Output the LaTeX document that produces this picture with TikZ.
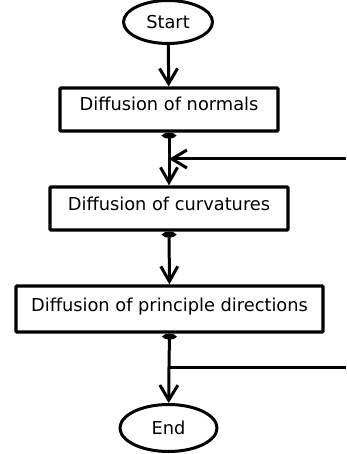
\documentclass[tikz,border=0pt]{standalone}
\usepackage{fontspec}
\setmainfont{DejaVu Sans}
\usetikzlibrary{arrows.meta,shapes.geometric}
\begin{document}
\begin{tikzpicture}[x=1pt,y=-1pt,
		every node/.style={font=\fontsize{17.8}{20}\selectfont},
		terminal/.style={draw,ellipse,line width=3pt,inner sep=0pt},
		stepbox/.style={draw,rectangle,line width=3.2pt,rounded corners=1pt,inner xsep=0pt,inner ysep=0pt,text height=23pt,text depth=20pt},
		flow/.style={line width=3pt,{Circle[length=6pt,width=13pt]}-{Straight Barb[length=15pt,width=17pt,line width=3pt]}},
		back/.style={line width=3pt,-{Straight Barb[length=15pt,width=18pt,line width=3pt]}}]
	\useasboundingbox (0,0) rectangle (346,454);

	\node[terminal,minimum width=89pt,minimum height=43pt] (start) at (168,22) {Start};
	\node[stepbox,minimum width=218pt,minimum height=43pt] (normals) at (169,109.5) {Diffusion of normals};
	\node[stepbox,minimum width=238pt,minimum height=43pt] (curv) at (169,208.5) {Diffusion of curvatures};
	\node[stepbox,minimum width=307pt,minimum height=46pt,text height=25pt,text depth=21pt] (dirs) at (169.5,309) {Diffusion of principle directions};
	\node[terminal,minimum width=97pt,minimum height=47pt] (end) at (168.5,428) {End};

	\coordinate (in) at (346,159); % loop back in
	\coordinate (out) at (346,367); % loop back out
	\coordinate (split) at (normals.south |- out);

	\draw[back] (start) -- (normals);
	\draw[flow] (normals) -- (curv);
	\draw[back] (in) -- (in -| normals.south);
	\draw[flow] (curv) -- (dirs);
	\draw[line width=3pt,{Circle[length=6pt,width=13pt]}-] (dirs.south) -- (split);
	\draw[line width=3pt] (split) -- (out);
	\draw[back] (split) -- (end);
\end{tikzpicture}
\end{document}
